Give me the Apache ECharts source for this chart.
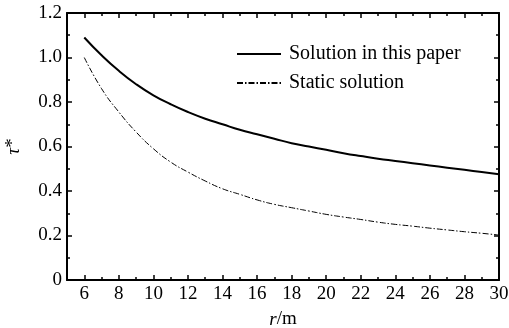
<!DOCTYPE html>
<html lang="en">
<head>
    <meta charset="UTF-8">
    <title>tau chart</title>
    <script src="https://cdn.jsdelivr.net/npm/echarts@6/dist/echarts.min.js"></script>
</head>
<body style="margin:0">
<div id="main" style="width: 509px;height:328px;"></div>
<script>
    // r/m values and the two curves
    var rValues = [6, 7, 8, 9, 10, 11, 12, 13, 14, 15, 16, 17, 18, 19, 20, 21, 22, 23, 24, 25, 26, 27, 28, 29, 30];
    var paperSolution = [1.09, 1.01, 0.94, 0.88, 0.83, 0.79, 0.755, 0.725, 0.70, 0.675, 0.655, 0.635, 0.615, 0.60, 0.585, 0.57, 0.557, 0.545, 0.535, 0.525, 0.515, 0.505, 0.495, 0.485, 0.475];
    var staticSolution = [1.0, 0.86, 0.755, 0.665, 0.59, 0.53, 0.485, 0.445, 0.41, 0.385, 0.36, 0.34, 0.325, 0.31, 0.295, 0.283, 0.272, 0.26, 0.25, 0.242, 0.233, 0.225, 0.217, 0.21, 0.202];
    var xMajorTicks = [6, 8, 10, 12, 14, 16, 18, 20, 22, 24, 26, 28, 30];
    var xMinorTicks = [5, 7, 9, 11, 13, 15, 17, 19, 21, 23, 25, 27, 29];
    var seriesNames = ['Solution in this paper', 'Static solution'];

    function pairs(ys) {
        var out = [];
        for (var i = 0; i < rValues.length; i++) out.push([rValues[i], ys[i]]);
        return out;
    }

    var font = 'Liberation Serif';
    var myChart = echarts.init(document.getElementById('main'));

    function xAxisDef(pos, ticks, len, labels, line) {
        return {
            type: 'value', position: pos, min: 5, max: 30,
            axisLine: { show: line, onZero: false, lineStyle: { color: '#000', width: 2 } },
            axisTick: { show: true, inside: true, length: len, customValues: ticks, lineStyle: { color: '#000', width: 1.5 } },
            axisLabel: { show: labels, customValues: ticks, color: '#000', fontFamily: font, fontSize: 19, margin: 5 },
            splitLine: { show: false }
        };
    }

    var xAxes = [
        xAxisDef('bottom', xMajorTicks, 5, true, true),
        xAxisDef('bottom', xMinorTicks, 3, false, false),
        xAxisDef('top', xMajorTicks, 5, false, true),
        xAxisDef('top', xMinorTicks, 3, false, false)
    ];
    xAxes[0].name = '{i|r}/m';
    xAxes[0].nameLocation = 'middle';
    xAxes[0].nameGap = 30;
    xAxes[0].nameTextStyle = {
        color: '#000', fontFamily: font, fontSize: 19,
        rich: { i: { fontStyle: 'italic', fontFamily: font, fontSize: 19, color: '#000' } }
    };

    function yAxisDef(pos, labels) {
        return {
            type: 'value', position: pos, min: 0, max: 1.2, interval: 0.2,
            axisLine: { show: true, onZero: false, lineStyle: { color: '#000', width: 2 } },
            axisTick: { show: true, inside: true, length: 5, lineStyle: { color: '#000', width: 1.5 } },
            minorTick: { show: true, splitNumber: 2, length: 3, lineStyle: { color: '#000', width: 1.5 } },
            axisLabel: {
                show: labels, color: '#000', fontFamily: font, fontSize: 19, margin: 5,
                formatter: function (v) { return v === 0 ? '0' : v.toFixed(1); }
            },
            splitLine: { show: false }
        };
    }
    var yAxes = [yAxisDef('left', true), yAxisDef('right', false)];
    yAxes[0].name = '{i|τ}*';
    yAxes[0].nameLocation = 'middle';
    yAxes[0].nameGap = 44;
    yAxes[0].nameTextStyle = {
        color: '#000', fontFamily: font, fontSize: 19,
        rich: { i: { fontStyle: 'italic', fontFamily: font, fontSize: 19, color: '#000' } }
    };

    var option = {
        animation: false,
        grid: { left: 67, right: 10, top: 13, bottom: 48, outerBoundsMode: 'none' },
        legend: {
            show: true, orient: 'vertical', left: 236, top: 44, padding: 0,
            itemWidth: 44, itemHeight: 14, itemGap: 9,
            itemStyle: { opacity: 0 },
            textStyle: { color: '#000', fontFamily: font, fontSize: 20, padding: [0, 0, 0, 3] },
            data: seriesNames
        },
        xAxis: xAxes,
        yAxis: yAxes,
        series: [
            {
                name: seriesNames[0], type: 'line', smooth: true, symbol: 'none',
                xAxisIndex: 0, yAxisIndex: 0,
                lineStyle: { color: '#000', width: 2 },
                itemStyle: { color: '#000' },
                data: pairs(paperSolution)
            },
            {
                name: seriesNames[1], type: 'line', smooth: true, symbol: 'none',
                xAxisIndex: 0, yAxisIndex: 0,
                lineStyle: { color: '#000', width: 1, type: [6, 2, 1.5, 2] },
                itemStyle: { color: '#000' },
                data: pairs(staticSolution)
            }
        ]
    };
    myChart.setOption(option);
</script>
</body>
</html>
